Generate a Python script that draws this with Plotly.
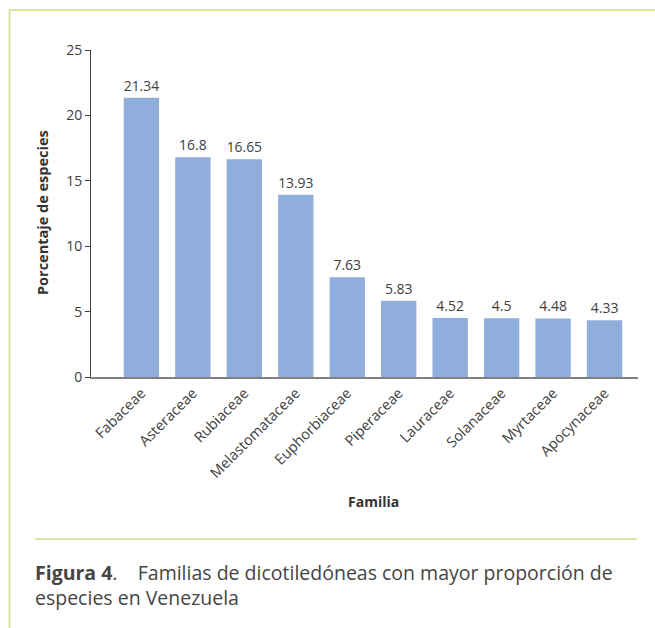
import plotly.graph_objects as go

# Dicot families with the largest share of species in Venezuela
familias = ["Fabaceae", "Asteraceae", "Rubiaceae", "Melastomataceae", "Euphorbiaceae",
            "Piperaceae", "Lauraceae", "Solanaceae", "Myrtaceae", "Apocynaceae"]
porcentaje = [21.34, 16.8, 16.65, 13.93, 7.63, 5.83, 4.52, 4.5, 4.48, 4.33]
y_ticks = [0, 5, 10, 15, 20, 25]

W, H = 655, 628
FONT = "Open Sans"
TXT = "#404040"
GREEN = "#d9e6a3"

# plot area in pixels
x0, x1 = 91, 638
y_top, y_bot = 50, 377

fig = go.Figure(go.Bar(
    x=list(range(len(familias))),
    y=porcentaje,
    width=0.687,
    marker=dict(color="#8FAEDB", line=dict(width=0)),
    text=[f"{v:g}" for v in porcentaje],
    textposition="outside",
    cliponaxis=False,
    textfont=dict(family=FONT, size=14, color=TXT),
))

fig.update_layout(
    width=W, height=H,
    margin=dict(l=0, r=0, t=0, b=0),
    paper_bgcolor="white", plot_bgcolor="white",
    showlegend=False,
    font=dict(family=FONT, color=TXT),
    xaxis=dict(
        domain=[x0 / W, x1 / W],
        range=[-0.98, 9.65],
        automargin=False,
        tickmode="array",
        tickvals=list(range(len(familias))),
        ticktext=familias,
        tickangle=-45,
        tickfont=dict(family=FONT, size=14.5, color=TXT),
        showline=True, linecolor="#808080", linewidth=2,
        ticks="", showgrid=False, zeroline=False,
    ),
    yaxis=dict(
        domain=[(H - y_bot) / H, (H - y_top) / H],
        range=[0, 25],
        automargin=False,
        tickmode="array", tickvals=y_ticks,
        tickfont=dict(family=FONT, size=14, color=TXT),
        showline=True, linecolor="#404040", linewidth=1,
        ticks="outside", ticklen=5, tickcolor="#404040",
        showgrid=False, zeroline=False,
    ),
)

# axis titles
fig.add_annotation(
    text="<b>Porcentaje de especies</b>", x=42 / W, y=(H - 213) / H,
    xref="paper", yref="paper", xanchor="center", yanchor="middle",
    textangle=-90, showarrow=False,
    font=dict(family=FONT, size=14.5, color="#333333"),
)
fig.add_annotation(
    text="<b>Familia</b>", x=373 / W, y=(H - 501) / H,
    xref="paper", yref="paper", xanchor="center", yanchor="middle",
    showarrow=False,
    font=dict(family=FONT, size=14, color="#333333"),
)

# caption
fig.add_annotation(
    text="<b>Figura 4</b>.\u00a0\u00a0\u00a0\u00a0Familias de dicotiledóneas con mayor proporción de<br>especies en Venezuela",
    x=33 / W, y=(H - 585) / H, xref="paper", yref="paper",
    xanchor="left", yanchor="middle", align="left", showarrow=False,
    font=dict(family=FONT, size=19.5, color="#454545"),
)

# frame lines
fig.add_shape(type="line", xref="paper", yref="paper",
              x0=9 / W, x1=1, y0=(H - 10) / H, y1=(H - 10) / H,
              line=dict(color=GREEN, width=2))
fig.add_shape(type="line", xref="paper", yref="paper",
              x0=9.5 / W, x1=9.5 / W, y0=0, y1=(H - 10) / H,
              line=dict(color=GREEN, width=2))
fig.add_shape(type="line", xref="paper", yref="paper",
              x0=35 / W, x1=637 / W, y0=(H - 539) / H, y1=(H - 539) / H,
              line=dict(color=GREEN, width=2))

fig.write_html("out.html")
